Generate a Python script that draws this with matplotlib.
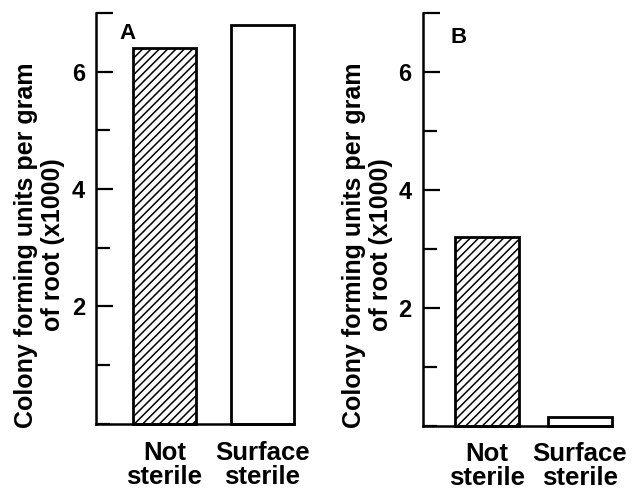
import matplotlib.pyplot as plt
from matplotlib.ticker import MultipleLocator

plt.rcParams['font.family'] = ['Liberation Sans', 'DejaVu Sans']
plt.rcParams['font.weight'] = 'bold'
plt.rcParams['hatch.linewidth'] = 1.1

# données (x1000 UFC par gramme de racine)
categories = ["Not\nsterile", "Surface\nsterile"]
valeurs_a = [6.4, 6.8]
valeurs_b = [3.2, 0.15]
hachures = ["////", ""]
yticks = [2, 4, 6]
ylabel = "Colony forming units per gram\nof root (x1000)"

fig = plt.figure(figsize=(6.32, 4.94), dpi=100)
ax_a = fig.add_axes([0.152, 0.142, 0.313, 0.832])
ax_b = fig.add_axes([0.669, 0.138, 0.299, 0.836])


def panneau(ax, valeurs, largeur, xmin, lettre, lx, ly):
    x = list(range(len(categories)))
    for xi, v, h in zip(x, valeurs, hachures):
        ax.bar(xi, v, width=largeur, color="white", edgecolor="black",
               linewidth=2.0, hatch=h, clip_on=False)
    ax.set_xlim(xmin, 1 + largeur / 2)
    ax.set_ylim(0, 7)
    for s in ["top", "right"]:
        ax.spines[s].set_visible(False)
    for s in ["left", "bottom"]:
        ax.spines[s].set_linewidth(1.8)
    ax.set_yticks(yticks + [7])
    ax.set_yticklabels([str(t) for t in yticks] + [""])
    ax.yaxis.set_minor_locator(MultipleLocator(1))
    ax.tick_params(axis="y", which="major", direction="in", length=12,
                   width=1.6, pad=8, labelsize=17)
    ax.tick_params(axis="y", which="minor", direction="in", length=10,
                   width=1.6)
    ax.set_xticks(x)
    ax.set_xticklabels(categories, fontsize=18.5, linespacing=1.0)
    ax.tick_params(axis="x", length=0, pad=12)
    ax.text(lx, ly, lettre, transform=ax.transAxes, fontsize=16,
            fontweight="bold", va="center", ha="center")


panneau(ax_a, valeurs_a, 0.646, -0.70, "A", 0.16, 0.95)
panneau(ax_b, valeurs_b, 0.69, -0.69, "B", 0.19, 0.94)

fig.text(0.062, 0.504, ylabel, rotation=90, ha="center", va="center",
         fontsize=18, linespacing=1.15, multialignment="center")
fig.text(0.581, 0.504, ylabel, rotation=90, ha="center", va="center",
         fontsize=18, linespacing=1.15, multialignment="center")

fig.savefig("out.png", dpi=100)
